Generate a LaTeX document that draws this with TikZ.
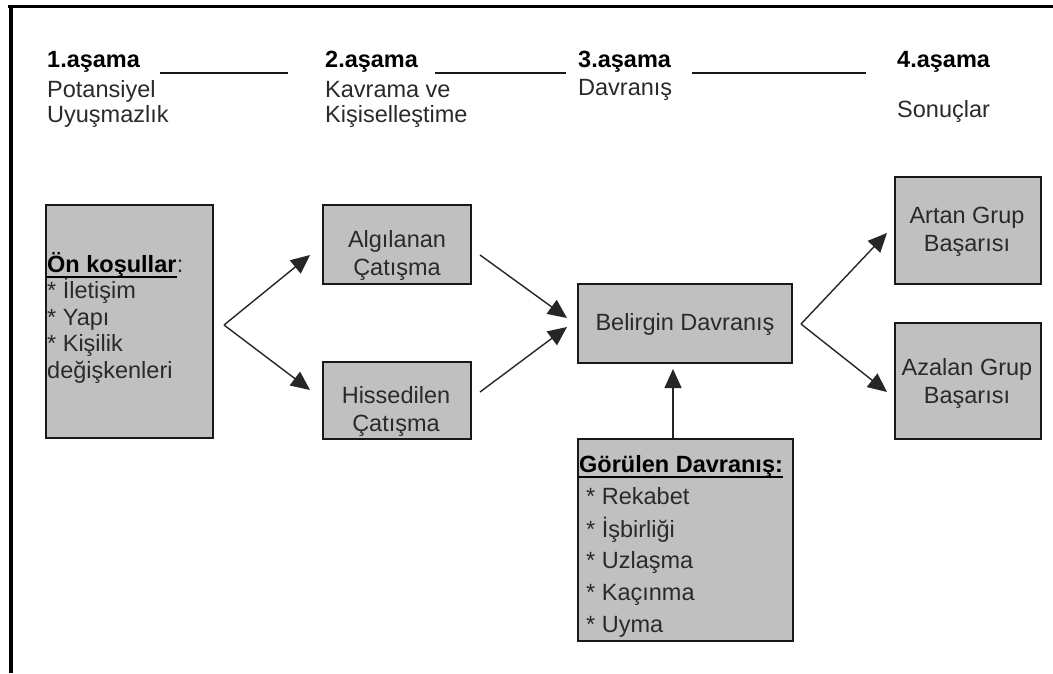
\documentclass[tikz,border=0pt]{standalone}
\usepackage{fontspec}
\setmainfont{Liberation Sans}
\usetikzlibrary{arrows.meta}
\definecolor{boxgray}{HTML}{C0C0C0}
\definecolor{txtc}{HTML}{2A2A2A}
\begin{document}
\begin{tikzpicture}[x=1pt,y=-1pt,
  box/.style={draw=black!90, line width=1.6pt, fill=boxgray, inner sep=0pt},
  txt/.style={anchor=base, inner sep=0pt, text=txtc, font=\fontsize{23.5}{28}\selectfont},
  txtl/.style={txt, anchor=base west},
  hd/.style={anchor=base west, inner sep=0pt, text=black, font=\bfseries\fontsize{23.5}{28}\selectfont},
  hline/.style={line width=1.5pt, draw=black!90},
  uline/.style={line width=2.5pt, draw=black},
  arr/.style={line width=1.4pt, draw=black!85, -{Triangle[length=19pt,width=17pt]}},
]
\useasboundingbox (0,0) rectangle (1053,673);
\fill[white] (0,0) rectangle (1053,673);
% frame
\draw[line width=3pt] (8,6.5) -- (1053,6.5);
\draw[line width=4pt] (10.5,5) -- (10.5,673);

% headers
\node[hd] (h1) at (47,67) {1.aşama};
\node[hd] (h2) at (325,67) {2.aşama};
\node[hd] (h3) at (578,67) {3.aşama};
\node[hd] (h4) at (897,67) {4.aşama};
\draw[hline] (160,73) -- (288,73);
\draw[hline] (435,73) -- (566,73);
\draw[hline] (692,73) -- (866,73);
\node[txtl] (s1a) at (47,97) {Potansiyel};
\node[txtl] (s1b) at (47,122) {Uyuşmazlık};
\node[txtl] (s2a) at (325,97) {Kavrama ve};
\node[txtl] (s2b) at (325,122) {Kişiselleştime};
\node[txtl] (s3a) at (578,95) {Davranış};
\node[txtl] (s4a) at (897,117) {Sonuçlar};

% boxes
\node[box, minimum width=167pt, minimum height=233pt] (on) at (129.5,321.5) {};
\node[box, minimum width=148pt, minimum height=79pt] (alg) at (397,244.5) {};
\node[box, minimum width=148pt, minimum height=77pt] (his) at (397,400.5) {};
\node[box, minimum width=214pt, minimum height=79pt] (bel) at (685,323.5) {};
\node[box, minimum width=215pt, minimum height=202pt] (gor) at (685.5,540) {};
\node[box, minimum width=146pt, minimum height=107pt] (art) at (968,230.5) {};
\node[box, minimum width=146pt, minimum height=116pt] (aza) at (968,381) {};

% box texts
\node[hd] (onh) at (47,272) {Ön koşullar};
\node[txt, anchor=base west] (onc) at (onh.base east) {:};
\draw[uline] ([yshift=-5pt]onh.base west) -- ([yshift=-5pt]onh.base east);
\node[txtl] (on1) at (47,298.5) {* İletişim};
\node[txtl] (on2) at (47,325) {* Yapı};
\node[txtl] (on3) at (47,351.5) {* Kişilik};
\node[txtl] (on4) at (47,378) {değişkenleri};

\node[txt] (alg1) at (397,247) {Algılanan};
\node[txt] (alg2) at (397,275) {Çatışma};
\node[txt] (his1) at (396,403) {Hissedilen};
\node[txt] (his2) at (396,431) {Çatışma};
\node[txt] (bel1) at (685,330) {Belirgin Davranış};
\node[txt] (art1) at (967,223) {Artan Grup};
\node[txt] (art2) at (967,251) {Başarısı};
\node[txt] (aza1) at (967,375) {Azalan Grup};
\node[txt] (aza2) at (967,403) {Başarısı};

\node[hd] (gorh) at (579,472) {Görülen Davranış:};
\draw[uline] ([yshift=-5pt]gorh.base west) -- ([yshift=-5pt]gorh.base east);
\node[txtl] (g1) at (586,504) {* Rekabet};
\node[txtl] (g2) at (586,537) {* İşbirliği};
\node[txtl] (g3) at (586,568) {* Uzlaşma};
\node[txtl] (g4) at (586,600) {* Kaçınma};
\node[txtl] (g5) at (586,632) {* Uyma};

% connector points
\coordinate (ap1) at (224,325);
\coordinate (t1u) at (310,255);
\coordinate (t1l) at (310,390);
\coordinate (m1s) at (480,255);
\coordinate (m1t) at (567,318);
\coordinate (m2s) at (480,392);
\coordinate (m2t) at (567,327);
\coordinate (vt) at (673,369);
\coordinate (ap2) at (801,324);
\coordinate (t2u) at (887,233);
\coordinate (t2l) at (887,392);

\draw[arr] (ap1) -- (t1u);
\draw[arr] (ap1) -- (t1l);
\draw[arr] (m1s) -- (m1t);
\draw[arr] (m2s) -- (m2t);
\draw[arr] (gor.north -| vt) -- (vt);
\draw[arr] (ap2) -- (t2u);
\draw[arr] (ap2) -- (t2l);
\end{tikzpicture}
\end{document}
